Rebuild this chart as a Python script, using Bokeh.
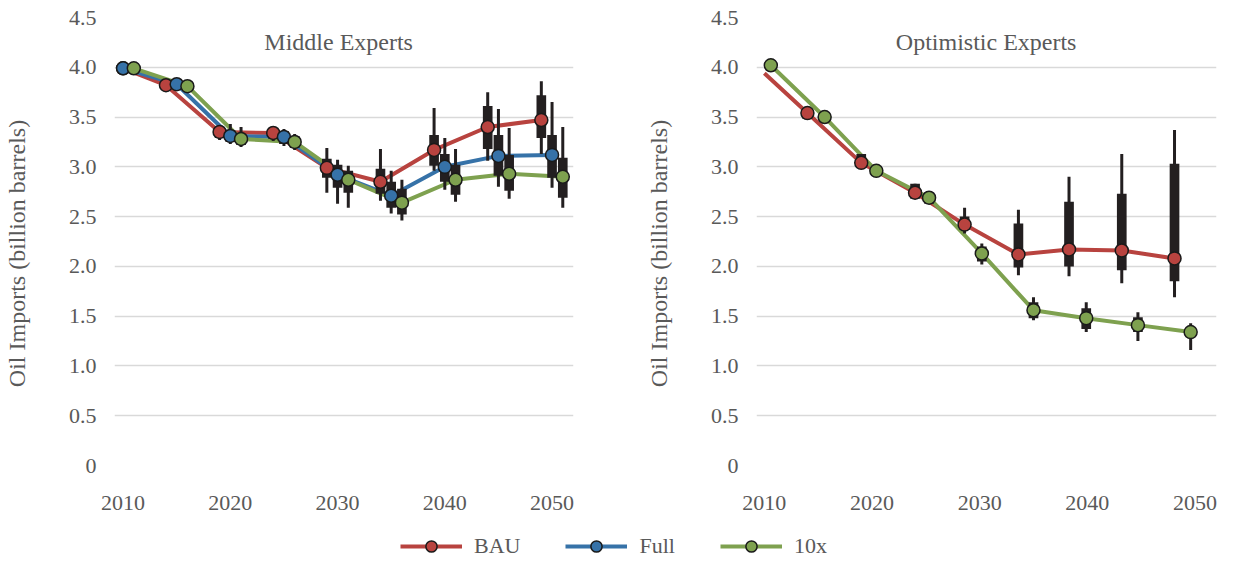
import numpy as np
from bokeh.plotting import figure
from bokeh.models import (Range1d, FixedTicker, Label, Legend, LegendItem,
                          CustomJSTickFormatter, ColumnDataSource)
from bokeh.layouts import column, row
from bokeh.embed import file_html
from bokeh.resources import INLINE

nan = float("nan")

# ---------------- Data: Middle Experts ----------------
mid_bau_x = [2010, 2014, 2019, 2024, 2029, 2034, 2039, 2044, 2049]
mid_bau_y = [3.99, 3.82, 3.35, 3.34, 2.99, 2.85, 3.17, 3.40, 3.47]
mid_bau_q1 = [nan, nan, 3.29, 3.28, 2.89, 2.73, 3.01, 3.18, 3.29]
mid_bau_q3 = [nan, nan, 3.39, 3.39, 3.08, 2.98, 3.32, 3.61, 3.72]
mid_bau_lo = [nan, nan, 3.27, 3.26, 2.74, 2.66, 2.96, 3.06, 3.13]
mid_bau_hi = [nan, nan, 3.41, 3.41, 3.19, 3.18, 3.59, 3.75, 3.86]

mid_full_x = [2010, 2015, 2020, 2025, 2030, 2035, 2040, 2045, 2050]
mid_full_y = [3.99, 3.83, 3.31, 3.30, 2.92, 2.71, 3.00, 3.11, 3.12]
mid_full_q1 = [nan, nan, 3.25, 3.23, 2.79, 2.59, 2.85, 2.91, 2.89]
mid_full_q3 = [nan, nan, 3.37, 3.36, 3.02, 2.85, 3.13, 3.32, 3.32]
mid_full_lo = [nan, nan, 3.23, 3.21, 2.63, 2.53, 2.77, 2.80, 2.79]
mid_full_hi = [nan, nan, 3.43, 3.38, 3.07, 2.96, 3.29, 3.58, 3.65]

mid_10x_x = [2011, 2016, 2021, 2026, 2031, 2036, 2041, 2046, 2051]
mid_10x_y = [3.99, 3.81, 3.28, 3.25, 2.87, 2.64, 2.87, 2.93, 2.90]
mid_10x_q1 = [nan, nan, 3.22, 3.19, 2.74, 2.52, 2.72, 2.76, 2.69]
mid_10x_q3 = [nan, nan, 3.33, 3.31, 2.96, 2.78, 3.02, 3.12, 3.09]
mid_10x_lo = [nan, nan, 3.20, 3.17, 2.59, 2.46, 2.65, 2.68, 2.59]
mid_10x_hi = [nan, nan, 3.40, 3.33, 3.01, 2.87, 3.18, 3.39, 3.40]

# ---------------- Data: Optimistic Experts ----------------
opt_bau_x = [2010, 2014, 2019, 2024, 2028.6, 2033.6, 2038.3, 2043.2, 2048.1]
opt_bau_y = [3.94, 3.54, 3.04, 2.74, 2.42, 2.12, 2.17, 2.16, 2.08]
opt_bau_marker = [False, True, True, True, True, True, True, True, True]
opt_bau_q1 = [nan, 3.48, 2.99, 2.68, 2.37, 1.99, 2.00, 1.96, 1.85]
opt_bau_q3 = [nan, 3.58, 3.13, 2.83, 2.50, 2.43, 2.65, 2.73, 3.03]
opt_bau_lo = [nan, 3.48, 2.99, 2.68, 2.33, 1.91, 1.90, 1.83, 1.69]
opt_bau_hi = [nan, 3.58, 3.13, 2.83, 2.59, 2.57, 2.90, 3.13, 3.37]

opt_10x_x = [2010.6, 2015.6, 2020.4, 2025.3, 2030.2, 2035.0, 2039.9, 2044.7, 2049.6]
opt_10x_y = [4.02, 3.50, 2.96, 2.69, 2.13, 1.56, 1.48, 1.41, 1.34]
opt_10x_q1 = [nan, nan, nan, 2.63, 2.05, 1.48, 1.37, 1.34, 1.29]
opt_10x_q3 = [nan, nan, nan, 2.74, 2.20, 1.64, 1.58, 1.49, 1.38]
opt_10x_lo = [nan, nan, nan, 2.63, 2.02, 1.46, 1.34, 1.25, 1.16]
opt_10x_hi = [nan, nan, nan, 2.74, 2.23, 1.69, 1.64, 1.54, 1.43]

x_ticks = [2010, 2020, 2030, 2040, 2050]
y_ticks = [0, 0.5, 1.0, 1.5, 2.0, 2.5, 3.0, 3.5, 4.0, 4.5]
series_names = ["BAU", "Full", "10x"]
series_colors = ["#B8433F", "#3672A8", "#7EA14F"]

FONT = "Liberation Serif"
TXT = "#595959"
BOX = "#231F20"
EDGE = "#1A1A1A"
NB = "\u00a0"


def make_panel(title, title_x, series, width, border_left, border_right, xr):
    p = figure(width=width, height=516, output_backend="svg", toolbar_location=None,
               x_range=Range1d(*xr), y_range=Range1d(0, 4.5),
               min_border_left=border_left, min_border_right=border_right,
               min_border_top=17, min_border_bottom=51)
    p.outline_line_color = None
    p.background_fill_color = "white"
    p.border_fill_color = "white"
    p.xgrid.grid_line_color = None
    p.ygrid.grid_line_color = "#D9D9D9"
    p.ygrid.grid_line_width = 1.3
    p.xaxis.ticker = FixedTicker(ticks=x_ticks)
    p.yaxis.ticker = FixedTicker(ticks=y_ticks)
    p.yaxis.formatter = CustomJSTickFormatter(
        code="return tick == 0 ? '0' : tick.toFixed(1);")
    for ax in (p.xaxis[0], p.yaxis[0]):
        ax.axis_line_color = None
        ax.major_tick_line_color = None
        ax.minor_tick_line_color = None
        ax.major_label_text_font = FONT
        ax.major_label_text_font_size = "22px"
        ax.major_label_text_color = TXT
    p.xaxis.major_label_standoff = 24
    p.yaxis.major_label_standoff = 12
    p.yaxis.axis_label = "Oil Imports (billion barrels)" + NB * 4
    p.yaxis.axis_label_text_font = FONT
    p.yaxis.axis_label_text_font_size = "24px"
    p.yaxis.axis_label_text_font_style = "normal"
    p.yaxis.axis_label_text_color = TXT
    p.yaxis.axis_label_standoff = 36

    # lines
    for s in series:
        p.line(s["x"], s["y"], line_color=s["color"], line_width=4)
    # boxes & whiskers
    for s in series:
        src = ColumnDataSource(dict(x=s["x"], q1=s["q1"], q3=s["q3"],
                                    lo=s["lo"], hi=s["hi"]))
        p.segment(x0="x", y0="lo", x1="x", y1="hi", source=src,
                  line_color=BOX, line_width=3)
        p.vbar(x="x", bottom="q1", top="q3", width=0.9, source=src,
               fill_color=BOX, line_color=None)
    # markers
    for s in series:
        mx = [x for x, m in zip(s["x"], s["marker"]) if m]
        my = [y for y, m in zip(s["y"], s["marker"]) if m]
        p.scatter(mx, my, size=13, fill_color=s["color"], line_color=EDGE,
                  line_width=1.5)

    p.add_layout(Label(x=title_x, y=4.25, text=title, text_align="center",
                       text_baseline="middle", text_font=FONT,
                       text_font_size="24px", text_color=TXT))
    return p


def S(x, y, q1, q3, lo, hi, color, marker=None):
    return dict(x=x, y=y, q1=q1, q3=q3, lo=lo, hi=hi, color=color,
                marker=marker if marker is not None else [True] * len(x))


mid_series = [
    S(mid_bau_x, mid_bau_y, mid_bau_q1, mid_bau_q3, mid_bau_lo, mid_bau_hi, series_colors[0]),
    S(mid_full_x, mid_full_y, mid_full_q1, mid_full_q3, mid_full_lo, mid_full_hi, series_colors[1]),
    S(mid_10x_x, mid_10x_y, mid_10x_q1, mid_10x_q3, mid_10x_lo, mid_10x_hi, series_colors[2]),
]
opt_series = [
    S(opt_bau_x, opt_bau_y, opt_bau_q1, opt_bau_q3, opt_bau_lo, opt_bau_hi, series_colors[0],
      opt_bau_marker),
    S(opt_10x_x, opt_10x_y, opt_10x_q1, opt_10x_q3, opt_10x_lo, opt_10x_hi, series_colors[2]),
]

p1 = make_panel("Middle Experts", 2030.1, mid_series, 642, 105, 69, (2009.2, 2052.0))
p2 = make_panel("Optimistic Experts", 2030.6, opt_series, 575, 107, 1, (2009.27, 2052.0))

# legend strip
lf = figure(width=1217, height=43, output_backend="svg", toolbar_location=None,
            x_range=Range1d(0, 1), y_range=Range1d(0, 1),
            x_axis_location=None, y_axis_location=None, min_border=0)
lf.grid.visible = False
lf.outline_line_color = None
items = []
for name, col in zip(series_names, series_colors):
    rl = lf.line(x=[-5, -4], y=[-5, -5], line_color=col, line_width=4)
    rs = lf.scatter(x=[-5], y=[-5], size=13, fill_color=col, line_color=EDGE,
                    line_width=1.5)
    items.append(LegendItem(label=name, renderers=[rl, rs]))
leg = Legend(items=items, orientation="horizontal", location=(400, -1),
             glyph_width=62, glyph_height=28, label_height=28, label_standoff=12,
             spacing=45, padding=0, margin=0, border_line_color=None,
             background_fill_alpha=0, label_text_font=FONT,
             label_text_font_size="22px", label_text_color=TXT)
lf.add_layout(leg)

layout = column(row(p1, p2), lf)
open("out.html", "w").write(file_html(layout, INLINE))
